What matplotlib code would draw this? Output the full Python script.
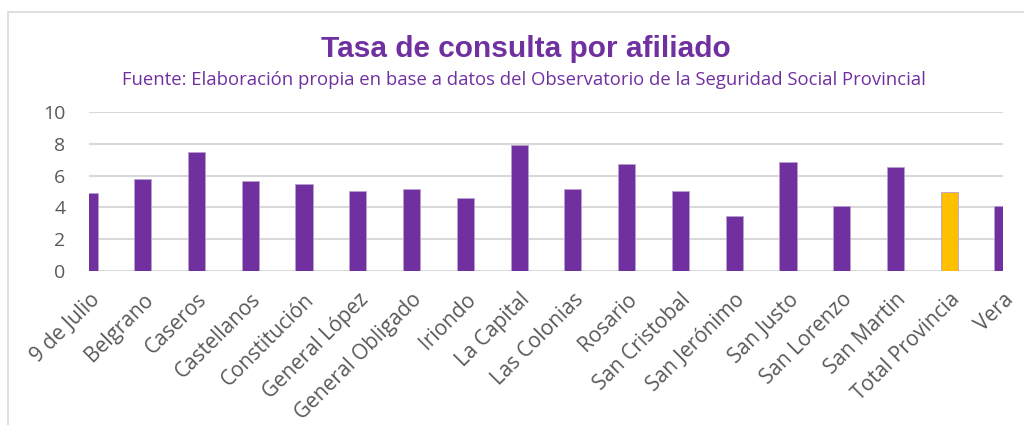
import matplotlib.pyplot as plt
from matplotlib.patches import Rectangle

departamentos = ["9 de Julio", "Belgrano", "Caseros", "Castellanos", "Constitución",
                 "General López", "General Obligado", "Iriondo", "La Capital",
                 "Las Colonias", "Rosario", "San Cristobal", "San Jerónimo",
                 "San Justo", "San Lorenzo", "San Martin", "Total Provincia", "Vera"]
tasa = [4.90, 5.78, 7.46, 5.68, 5.47, 5.05, 5.13, 4.59, 7.95,
        5.17, 6.73, 5.03, 3.47, 6.86, 4.10, 6.56, 4.98, 4.06]

purple = "#7030A0"
yellow = "#FFC000"
colors = [yellow if d == "Total Provincia" else purple for d in departamentos]

fig = plt.figure(figsize=(10.24, 4.25), dpi=100)
# light frame of the original chart (cropped screenshot)
fig.patches.append(Rectangle((8 / 1024, -0.1), 1.1, (1 - 12 / 425) + 0.1,
                             transform=fig.transFigure, fill=False,
                             edgecolor="#D9D9D9", lw=1.2))

ax = fig.add_axes([89 / 1024, 1 - 271 / 425, (1003 - 89) / 1024, (271 - 112) / 425])
x = range(len(departamentos))
ax.bar(x, tasa, width=0.32, color=colors, edgecolor="#B9A0CF", linewidth=0.6, zorder=3)

ax.set_xlim(0, len(departamentos) - 1)
ax.set_ylim(0, 10)
ax.set_yticks(range(0, 11, 2))
ax.yaxis.grid(True, color="#D9D9D9", lw=1.5, zorder=0)
ax.set_axisbelow(True)
for s in ax.spines.values():
    s.set_visible(False)
ax.tick_params(length=0)
ax.tick_params(axis="y", pad=17, labelsize=14, labelcolor="#595959")
ax.set_xticks(list(x))
ax.set_xticklabels(departamentos, rotation=45, ha="right", rotation_mode="anchor",
                   fontsize=15, color="#595959", family=["Open Sans", "DejaVu Sans"])
for lab in ax.get_yticklabels():
    lab.set_family(["Open Sans", "DejaVu Sans"])
ax.tick_params(axis="x", pad=13)

fig.text(0.514, 1 - 49 / 425, "Tasa de consulta por afiliado", ha="center", va="center",
         fontsize=21.5, fontweight="bold", color=purple,
         family=["Liberation Sans", "DejaVu Sans"])
fig.text(0.512, 1 - 80 / 425,
         "Fuente: Elaboración propia en base a datos del Observatorio de la Seguridad Social Provincial",
         ha="center", va="center", fontsize=13.3, color=purple,
         family=["Open Sans", "DejaVu Sans"])

fig.savefig("out.png", dpi=100)
